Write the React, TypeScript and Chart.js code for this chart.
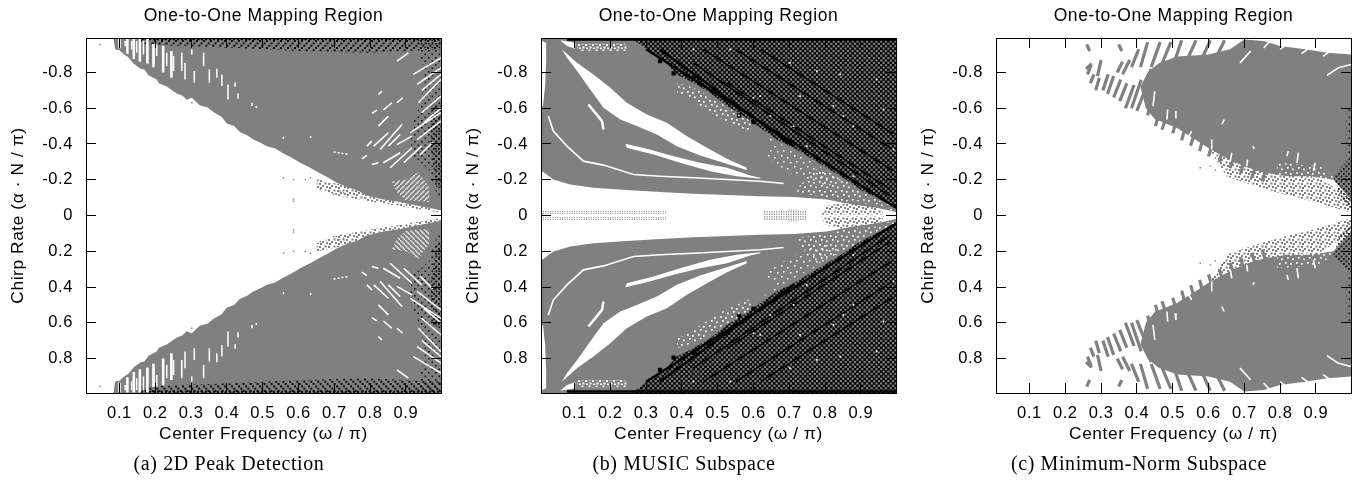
import React, { useEffect, useRef } from "react";
import { Chart, registerables } from "chart.js";

Chart.register(...registerables);

type Pt = [number, number];
type Seg = [number, number, number, number];

const xTickValues = [0.1, 0.2, 0.3, 0.4, 0.5, 0.6, 0.7, 0.8, 0.9];
const yTickValues = [-0.8, -0.6, -0.4, -0.2, 0, 0.2, 0.4, 0.6, 0.8];
const xRange: Pt = [0.0065, 0.998];
const yRange: Pt = [-0.993, 0.993];
const plotTitle = "One-to-One Mapping Region";
const xAxisTitle = "Center Frequency (ω / π)";
const yAxisTitle = "Chirp Rate (α · N / π)";

// ---------- panel (a): upper half, the lower half is its mirror image ----------
const aBody: Pt[] = [[0.083,-0.993],[0.088,-0.929],[0.1,-0.925],[0.113,-0.9],[0.125,-0.885],[0.139,-0.85],[0.158,-0.822],[0.17,-0.815],[0.181,-0.785],[0.204,-0.761],[0.21,-0.74],[0.232,-0.722],[0.26,-0.683],[0.275,-0.672],[0.288,-0.648],[0.302,-0.659],[0.325,-0.616],[0.345,-0.606],[0.363,-0.578],[0.385,-0.552],[0.4,-0.515],[0.42,-0.5],[0.437,-0.466],[0.455,-0.45],[0.474,-0.425],[0.495,-0.405],[0.512,-0.388],[0.535,-0.375],[0.558,-0.347],[0.58,-0.325],[0.605,-0.295],[0.63,-0.27],[0.661,-0.235],[0.685,-0.21],[0.707,-0.183],[0.735,-0.16],[0.765,-0.14],[0.791,-0.112],[0.837,-0.09],[0.884,-0.075],[0.931,-0.056],[0.998,-0.03],[0.998,-0.993]];
const aHatch: Pt[] = [[0.158,-0.993],[0.998,-0.993],[0.998,-0.929],[0.791,-0.91],[0.605,-0.92],[0.418,-0.938],[0.158,-0.957]];
const aRightDots: Pt[] = [[0.931,-0.993],[0.954,-0.761],[0.935,-0.593],[0.907,-0.463],[0.921,-0.332],[0.964,-0.257],[0.977,-0.164],[0.998,-0.071],[0.998,-0.993]];
const aRightDense: Pt[] = [[0.972,-0.62],[0.998,-0.62],[0.998,-0.16],[0.985,-0.16],[0.968,-0.4]];
const aWhiteCluster: Pt[] = [[0.86,-0.19],[0.9,-0.2],[0.935,-0.24],[0.965,-0.16],[0.965,-0.075],[0.9,-0.085],[0.875,-0.13]];
const aFringe: Pt[] = [[0.651,-0.201],[0.744,-0.164],[0.884,-0.08],[0.998,-0.03],[0.998,-0.015],[0.837,-0.067],[0.716,-0.108],[0.651,-0.155]];
const aTopStrip: Seg[] = [[0.16,-0.986,0.998,-0.986]];
const aWideStreaks: Seg[] = [[0.1,-0.99,0.1,-0.935],[0.122,-0.99,0.122,-0.905],[0.14,-0.99,0.14,-0.875],[0.157,-0.99,0.157,-0.86],[0.178,-0.99,0.178,-0.85],[0.195,-0.96,0.195,-0.83],[0.222,-0.95,0.222,-0.8],[0.245,-0.92,0.245,-0.77]];
const aStreaks: Seg[] = [[0.335,-0.91,0.335,-0.836],[0.309,-0.808,0.309,-0.743],[0.351,-0.817,0.351,-0.743],[0.372,-0.821,0.372,-0.771],[0.386,-0.789,0.386,-0.724],[0.403,-0.733,0.403,-0.649],[0.423,-0.746,0.423,-0.72],[0.431,-0.683,0.431,-0.653],[0.47,-0.631,0.47,-0.612],[0.482,-0.612,0.482,-0.601],[0.274,-0.91,0.274,-0.808],[0.283,-0.854,0.283,-0.761],[0.251,-0.892,0.251,-0.808],[0.232,-0.91,0.232,-0.836],[0.204,-0.957,0.204,-0.892],[0.167,-0.976,0.167,-0.901],[0.148,-0.976,0.148,-0.91],[0.134,-0.976,0.134,-0.929],[0.302,-0.929,0.302,-0.901],[0.116,-0.976,0.116,-0.948],[0.558,-0.44,0.558,-0.429],[0.634,-0.444,0.634,-0.433],[0.875,-0.864,0.907,-0.91],[0.823,-0.677,0.833,-0.696],[0.805,-0.571,0.819,-0.59],[0.837,-0.59,0.861,-0.631],[0.875,-0.631,0.891,-0.659],[0.823,-0.5,0.851,-0.556],[0.791,-0.388,0.805,-0.416],[0.81,-0.388,0.851,-0.463],[0.828,-0.369,0.889,-0.509],[0.851,-0.388,0.884,-0.453],[0.875,-0.397,0.917,-0.444],[0.837,-0.295,0.884,-0.351],[0.856,-0.267,0.917,-0.379],[0.777,-0.317,0.791,-0.336],[0.805,-0.285,0.823,-0.295],[0.921,-0.789,0.998,-0.882],[0.931,-0.733,0.998,-0.826],[0.935,-0.631,0.998,-0.761],[0.944,-0.575,0.998,-0.668],[0.912,-0.463,0.998,-0.575],[0.931,-0.425,0.998,-0.528],[0.894,-0.295,0.944,-0.388],[0.945,-0.7,0.998,-0.79],[0.95,-0.52,0.998,-0.6],[0.94,-0.34,0.975,-0.41]];
const aDottedStreak: Seg[] = [[0.698,-0.356,0.74,-0.341]];
const aGrayDots: Pt[] = [[0.558,-0.211],[0.586,-0.201],[0.619,-0.201],[0.633,-0.211],[0.661,-0.146],[0.684,-0.136],[0.698,-0.118],[0.716,-0.136],[0.726,-0.127],[0.586,-0.093],[0.586,-0.08],[0.046,-0.957],[0.302,-0.631]];

// ---------- panel (b): upper half ----------
const bBody: Pt[] = [[0.005,-0.993],[0.998,-0.993],[0.998,-0.019],[0.944,-0.043],[0.898,-0.056],[0.851,-0.071],[0.805,-0.09],[0.712,-0.104],[0.619,-0.108],[0.526,-0.114],[0.432,-0.121],[0.339,-0.131],[0.246,-0.142],[0.153,-0.155],[0.088,-0.174],[0.041,-0.201],[0.013,-0.243],[0.005,-0.248]];
const bDark: Pt[] = [[0.26,-0.993],[0.302,-0.929],[0.339,-0.892],[0.386,-0.789],[0.432,-0.743],[0.479,-0.687],[0.526,-0.612],[0.572,-0.556],[0.619,-0.491],[0.665,-0.425],[0.712,-0.379],[0.758,-0.323],[0.805,-0.267],[0.851,-0.211],[0.898,-0.146],[0.944,-0.099],[0.998,-0.043],[0.998,-0.993]];
const bMainStreak: Pt[] = [[0.065,-0.929],[0.107,-0.854],[0.153,-0.789],[0.2,-0.715],[0.246,-0.631],[0.302,-0.565],[0.358,-0.519],[0.414,-0.444],[0.47,-0.379],[0.526,-0.317],[0.581,-0.267],[0.581,-0.254],[0.516,-0.295],[0.451,-0.336],[0.386,-0.388],[0.33,-0.453],[0.274,-0.5],[0.228,-0.537],[0.181,-0.603],[0.144,-0.705],[0.111,-0.799],[0.079,-0.882]];
const bSecondStreak: Pt[] = [[0.242,-0.401],[0.302,-0.373],[0.377,-0.332],[0.451,-0.295],[0.526,-0.267],[0.591,-0.224],[0.619,-0.211],[0.619,-0.205],[0.553,-0.22],[0.479,-0.248],[0.395,-0.295],[0.321,-0.341],[0.246,-0.379]];
const bThinStreakX = [0.027,0.041,0.079,0.125,0.181,0.265,0.339,0.432,0.526,0.619,0.684];
const bThinStreakY = [-0.556,-0.472,-0.388,-0.304,-0.282,-0.229,-0.22,-0.211,-0.201,-0.192,-0.179];
const bLeftEdge: Pt[] = [[0.009,-0.976],[0.021,-0.966],[0.021,-0.873],[0.018,-0.724],[0.012,-0.612],[0.009,-0.612]];
const bTopBlock: Pt[] = [[0.06,-0.981],[0.102,-0.966],[0.102,-0.933],[0.079,-0.948]];
const bTopSpeck: Pt[] = [[0.107,-0.961],[0.246,-0.961],[0.246,-0.92],[0.107,-0.92]];
const bSpeckNearEdge: Pt[] = [[0.386,-0.743],[0.432,-0.715],[0.5,-0.64],[0.6,-0.519],[0.585,-0.47],[0.52,-0.53],[0.46,-0.6],[0.42,-0.66],[0.386,-0.687]];
const bSpeckMid: Pt[] = [[0.62,-0.47],[0.7,-0.37],[0.78,-0.28],[0.85,-0.2],[0.8,-0.16],[0.74,-0.2],[0.68,-0.26],[0.63,-0.33],[0.66,-0.39]];
const bSpeckTip: Pt[] = [[0.78,-0.27],[0.87,-0.18],[0.93,-0.1],[0.991,-0.052],[0.998,-0.015],[0.95,-0.06],[0.86,-0.075],[0.78,-0.11],[0.72,-0.125],[0.73,-0.17],[0.76,-0.22]];
const bCenterGray: Pt[] = [[0.79,-0.005],[0.8,-0.05],[0.88,-0.09],[0.95,-0.05],[0.965,-0.005]];
const bWhiteLines: Seg[] = [[0.139,-0.621,0.177,-0.528],[0.177,-0.528,0.181,-0.481]];
const bThinDotted: Seg[] = [[0.125,-0.771,0.172,-0.668],[0.172,-0.668,0.2,-0.63]];
const bDottedRows: Seg[] = [[0.005,-0.022,0.356,-0.022],[0.005,-0.012,0.356,-0.012],[0.63,-0.022,0.749,-0.022],[0.63,-0.014,0.749,-0.014],[0.63,-0.006,0.749,-0.006],[0.698,-0.03,0.726,-0.03]];
const bBlackLines: Seg[] = [[0.079,-0.985,0.998,-0.985],[0.339,-0.929,0.712,-0.388],[0.3,-0.93,0.998,-0.043]];
const bFineBlackLines: Seg[] = [[0.432,-0.854,0.982,-0.108],[0.526,-0.743,0.982,-0.146],[0.46,-0.93,0.99,-0.25],[0.55,-0.93,0.99,-0.367],[0.62,-0.93,0.99,-0.456]];
const bBlackBlobs: Pt[] = [[0.339,-0.864],[0.377,-0.795],[0.432,-0.767],[0.6,-0.522],[0.56,-0.56]];
const bWhiteSpecks: Pt[] = [[0.6,-0.659],[0.702,-0.854],[0.777,-0.808],[0.842,-0.789],[0.432,-0.929],[0.535,-0.929],[0.712,-0.5],[0.851,-0.556],[0.944,-0.761],[0.991,-0.369],[0.879,-0.22],[0.73,-0.668],[0.619,-0.668],[0.749,-0.388],[0.823,-0.612],[0.647,-0.556],[0.879,-0.5],[0.963,-0.593]];

// ---------- panel (c): upper half ----------
const cBody: Pt[] = [[0.45,-0.54],[0.425,-0.6],[0.41,-0.72],[0.43,-0.8],[0.46,-0.85],[0.512,-0.89],[0.6,-0.9],[0.66,-0.93],[0.7,-0.985],[0.754,-0.976],[0.8,-0.948],[0.875,-0.929],[0.931,-0.91],[0.998,-0.901],[0.998,-0.09],[0.949,-0.2],[0.884,-0.22],[0.819,-0.22],[0.754,-0.24],[0.698,-0.275],[0.661,-0.31],[0.605,-0.37],[0.567,-0.42],[0.512,-0.49]];
const cFringe: Pt[] = [[0.6,-0.38],[0.7,-0.3],[0.8,-0.24],[0.9,-0.22],[0.998,-0.1],[0.998,-0.015],[0.95,-0.045],[0.88,-0.085],[0.8,-0.125],[0.72,-0.17],[0.65,-0.22]];
const cDarkDots: Pt[] = [[0.949,-0.22],[0.998,-0.332],[0.998,-0.034],[0.968,-0.108]];
const cEdgeDots: Pt[] = [[0.985,-0.6],[0.998,-0.6],[0.998,-0.33],[0.985,-0.33]];
const cWhiteCluster: Pt[] = [[0.791,-0.295],[0.912,-0.276],[0.958,-0.201],[0.791,-0.2]];
const cGrayStrokes: Seg[] = [[0.262,-0.79,0.272,-0.84],[0.258,-0.82,0.274,-0.85],[0.27,-0.74,0.28,-0.79],[0.285,-0.7,0.295,-0.77],[0.29,-0.78,0.3,-0.87],[0.305,-0.7,0.32,-0.79],[0.318,-0.68,0.335,-0.78],[0.335,-0.66,0.355,-0.76],[0.352,-0.64,0.372,-0.74],[0.368,-0.6,0.392,-0.73],[0.385,-0.6,0.412,-0.76],[0.4,-0.585,0.43,-0.74],[0.345,-0.8,0.36,-0.86],[0.36,-0.79,0.38,-0.87],[0.26,-0.957,0.268,-0.92],[0.349,-0.957,0.358,-0.92],[0.385,-0.83,0.405,-0.93],[0.41,-0.83,0.43,-0.97],[0.44,-0.83,0.465,-0.97],[0.47,-0.85,0.495,-0.97],[0.505,-0.86,0.525,-0.98],[0.54,-0.87,0.565,-0.98],[0.58,-0.87,0.605,-0.98],[0.62,-0.88,0.645,-0.98],[0.42,-0.72,0.44,-0.82],[0.43,-0.56,0.45,-0.72],[0.452,-0.5,0.47,-0.64],[0.47,-0.48,0.49,-0.6],[0.5,-0.46,0.515,-0.56],[0.525,-0.42,0.54,-0.53],[0.55,-0.39,0.565,-0.49],[0.575,-0.36,0.59,-0.47],[0.6,-0.33,0.615,-0.43],[0.63,-0.3,0.645,-0.4],[0.66,-0.265,0.675,-0.35],[0.69,-0.235,0.7,-0.32],[0.72,-0.21,0.735,-0.29],[0.75,-0.19,0.76,-0.26]];
const cWhiteStreaks: Seg[] = [[0.688,-0.854,0.718,-0.92],[0.637,-0.509,0.644,-0.537],[0.724,-0.388,0.728,-0.373],[0.931,-0.784,0.963,-0.827],[0.963,-0.827,0.998,-0.845],[0.754,-0.938,0.772,-0.976],[0.8,-0.93,0.82,-0.96],[0.86,-0.905,0.88,-0.935],[0.92,-0.89,0.94,-0.92],[0.445,-0.612,0.45,-0.696],[0.484,-0.537,0.486,-0.593],[0.507,-0.547,0.509,-0.584],[0.54,-0.425,0.553,-0.472],[0.609,-0.369,0.609,-0.425],[0.661,-0.304,0.665,-0.351],[0.707,-0.276,0.709,-0.313],[0.819,-0.332,0.823,-0.36],[0.847,-0.295,0.851,-0.351],[0.893,-0.248,0.898,-0.295]];
const cGrayDots: Pt[] = [[0.577,-0.267],[0.605,-0.276],[0.619,-0.254]];

const GRAY = "#808080";

function makeTile(w: number, h: number, paint: (g: CanvasRenderingContext2D) => void) {
  const off = document.createElement("canvas");
  off.width = w;
  off.height = h;
  const g = off.getContext("2d")!;
  paint(g);
  return g.createPattern(off, "repeat")!;
}

function makePatterns() {
  const squares = (g: CanvasRenderingContext2D, c: string, s: number, list: number[][]) => {
    g.fillStyle = c;
    list.forEach(([x, y]) => g.fillRect(x, y, s, s));
  };
  return {
    dark: makeTile(19, 19, (g) => {
      g.fillStyle = "#000";
      g.fillRect(0, 0, 19, 19);
      g.fillStyle = GRAY;
      for (let i = 0; i < 4; i++)
        for (let j = 0; j < 4; j++) {
          g.fillRect(i * 4.75, j * 4.75, 2.2, 2.2);
          g.fillRect(i * 4.75 + 2.37, j * 4.75 + 2.37, 2.2, 2.2);
        }
    }),
    hatchUp: makeTile(7, 7, (g) =>
      squares(g, "rgba(0,0,0,.9)", 2, [[0, 5], [2.3, 2.7], [4.6, 0.4]])),
    hatchDown: makeTile(7, 7, (g) =>
      squares(g, "rgba(0,0,0,.9)", 2, [[0, 0.4], [2.3, 2.7], [4.6, 5]])),
    blackDots: makeTile(7, 7, (g) => squares(g, "rgba(0,0,0,.85)", 1.6, [[1, 1], [4.5, 4.5]])),
    blackDense: makeTile(5, 5, (g) => squares(g, "rgba(0,0,0,.9)", 1.8, [[0.5, 0.5], [3, 3]])),
    whiteSpeck: makeTile(11, 9, (g) =>
      squares(g, "#fff", 1.7, [[1, 1], [6, 2], [3, 5], [8, 6.5]])),
    whiteSparse: makeTile(13, 11, (g) =>
      squares(g, "#fff", 1.5, [[1, 1], [7, 3], [3, 7], [10, 8]])),
    whiteDense: makeTile(7, 7, (g) =>
      squares(g, "#fff", 2, [[0.5, 0.5], [4, 2], [1.5, 4.5], [5, 5.5]])),
    whiteDiagUp: makeTile(5, 5, (g) =>
      squares(g, "#fff", 1.4, [[0, 3.6], [1.25, 2.4], [2.5, 1.2], [3.7, 0]])),
    whiteDiagDown: makeTile(5, 5, (g) =>
      squares(g, "#fff", 1.4, [[0, 0], [1.25, 1.2], [2.5, 2.4], [3.7, 3.6]])),
    graySpeck: makeTile(9, 7, (g) =>
      squares(g, GRAY, 2, [[0.5, 0.5], [4, 1], [7, 3], [2, 4], [5, 5]])),
  };
}

const toPoints = (pts: Pt[]) => pts.map(([x, y]) => ({ x, y }));
const flip = (pts: Pt[]): Pt[] => pts.map(([x, y]) => [x, -y] as Pt);
const flipSegs = (segs: Seg[]): Seg[] => segs.map(([a, b, c, d]) => [a, -b, c, -d] as Seg);

const shape = (pts: Pt[], fillStyle: any) => ({
  data: toPoints(pts), fill: "shape", backgroundColor: fillStyle, borderWidth: 0, pointRadius: 0, tension: 0,
});
const segments = (segs: Seg[], color: string, width: number, dash: number[] = []) => ({
  data: segs.flatMap(([a, b, c, d]) => [{ x: a, y: b }, { x: c, y: d }, { x: c, y: NaN }]),
  borderColor: color, borderWidth: width, borderDash: dash, pointRadius: 0, tension: 0, fill: false, spanGaps: false,
});
const polyline = (xs: number[], ys: number[], color: string, width: number) => ({
  data: xs.map((x, i) => ({ x, y: ys[i] })),
  borderColor: color, borderWidth: width, pointRadius: 0, tension: 0, fill: false,
});
const dots = (pts: Pt[], color: string, radius: number) => ({
  data: toPoints(pts), showLine: false, pointStyle: "rect", pointRadius: radius, pointBackgroundColor: color,
  pointBorderWidth: 0, fill: false,
});

function panelA(p: ReturnType<typeof makePatterns>) {
  const half = (down: boolean) => {
    const f = down ? flip : (v: Pt[]) => v;
    const s = down ? flipSegs : (v: Seg[]) => v;
    return [
      shape(f(aFringe), p.graySpeck),
      shape(f(aBody), GRAY),
      shape(f(aHatch), down ? p.hatchDown : p.hatchUp),
      shape(f(aRightDots), p.blackDots),
      shape(f(aRightDense), p.blackDense),
      segments(s(aTopStrip), "#000", 2, [2, 2]),
      shape(f(aWhiteCluster), down ? p.whiteDiagDown : p.whiteDiagUp),
      segments(s(aWideStreaks), "#fff", 2.6),
      segments(s(aStreaks), "#fff", 1.5),
      segments(s(aDottedStreak), "#fff", 1.5, [2, 2]),
      dots(f(aGrayDots), GRAY, 1),
    ];
  };
  return [...half(false), ...half(true)];
}

function panelB(p: ReturnType<typeof makePatterns>) {
  const half = (down: boolean) => {
    const f = down ? flip : (v: Pt[]) => v;
    const s = down ? flipSegs : (v: Seg[]) => v;
    const ys = down ? bThinStreakY.map((v) => -v) : bThinStreakY;
    return [
      shape(f(bBody), GRAY),
      shape(f(bDark), p.dark),
      segments(s(bBlackLines), "#000", 2.5),
      segments(s(bFineBlackLines), "#000", 1.5),
      dots(f(bBlackBlobs), "#000", 3),
      dots(f(bWhiteSpecks), "#fff", 1.2),
      shape(f(bMainStreak), "#fff"),
      shape(f(bSecondStreak), "#fff"),
      polyline(bThinStreakX, ys, "#fff", 1.6),
      shape(f(bLeftEdge), "#fff"),
      shape(f(bTopBlock), "#fff"),
      shape(f(bTopSpeck), p.whiteDense),
      shape(f(bSpeckNearEdge), p.whiteSpeck),
      shape(f(bSpeckMid), p.whiteSparse),
      shape(f(bSpeckTip), p.whiteSpeck),
      shape(f(bCenterGray), p.graySpeck),
      segments(s(bWhiteLines), "#fff", 2.5),
      segments(s(bThinDotted), "#fff", 1.5, [2, 2]),
      segments(s(bDottedRows), GRAY, 1, [1, 1.4]),
    ];
  };
  return [...half(false), ...half(true)];
}

function panelC(p: ReturnType<typeof makePatterns>) {
  const half = (down: boolean) => {
    const f = down ? flip : (v: Pt[]) => v;
    const s = down ? flipSegs : (v: Seg[]) => v;
    return [
      shape(f(cFringe), p.graySpeck),
      shape(f(cBody), GRAY),
      segments(s(cGrayStrokes), GRAY, 3.2),
      segments(s(cWhiteStreaks), "#fff", 1.6),
      shape(f(cWhiteCluster), p.whiteSpeck),
      shape(f(cDarkDots), p.blackDense),
      shape(f(cEdgeDots), p.blackDots),
      dots(f(cGrayDots), GRAY, 1),
    ];
  };
  return [...half(false), ...half(true)];
}

const panels = [
  { left: 0, caption: "(a) 2D Peak Detection", build: panelA },
  { left: 455, caption: "(b) MUSIC Subspace", build: panelB },
  { left: 910, caption: "(c) Minimum-Norm Subspace", build: panelC },
];

function options(caption: string): any {
  const family = "'Liberation Sans'";
  const tickFont = { family, size: 16.5 };
  const axisFont = { family, size: 17.3, lineHeight: 1.2 };
  const grid = { drawOnChartArea: false, drawTicks: true, tickLength: -10, color: "#000", lineWidth: 1, z: 1 };
  const border = { display: true, color: "#000", width: 1, z: 1 };
  const setTicks = (values: number[]) => (scale: any) => {
    scale.ticks = values.map((value) => ({ value }));
  };
  const xBase = { type: "linear", min: xRange[0], max: xRange[1], grid, border, afterBuildTicks: setTicks(xTickValues) };
  const yBase = { type: "linear", reverse: true, min: yRange[0], max: yRange[1], grid, border, afterBuildTicks: setTicks(yTickValues) };
  return {
    animation: false,
    responsive: false,
    maintainAspectRatio: false,
    events: [],
    layout: { padding: 0 },
    plugins: {
      legend: { display: false },
      tooltip: { enabled: false },
      title: { display: true, text: plotTitle, color: "#000", fullSize: false, font: { family, size: 17.5, weight: "normal", lineHeight: 1.2 }, padding: { top: 5.5, bottom: 11.5 } },
      subtitle: { display: true, position: "bottom", text: caption, color: "#000", font: { family: "'Liberation Serif'", size: 20, weight: "normal", lineHeight: 1.2 }, padding: { top: 3, bottom: 3 } },
    },
    scales: {
      x: {
        ...xBase, position: "bottom",
        ticks: { color: "#000", font: tickFont, padding: 21, maxRotation: 0, autoSkip: false, callback: (v: number) => String(v) },
        title: { display: true, text: xAxisTitle, color: "#000", font: axisFont, padding: { top: 5, bottom: 5 } },
        afterFit: (s: any) => { s.height = 57; },
      },
      y: {
        ...yBase, position: "left",
        ticks: { color: "#000", font: tickFont, padding: 23, autoSkip: false, callback: (v: number) => String(v) },
        title: { display: true, text: yAxisTitle, color: "#000", font: axisFont, padding: { top: 8, bottom: 8 } },
        afterFit: (s: any) => { s.width = 86; },
      },
      xTop: { ...xBase, position: "top", ticks: { display: false }, afterFit: (s: any) => { s.height = 0; } },
      yRight: { ...yBase, position: "right", ticks: { display: false }, afterFit: (s: any) => { s.width = 17; } },
    },
  };
}

const letterSpacing = {
  id: "letterSpacing",
  beforeDraw(chart: any) {
    chart.ctx.letterSpacing = "0.6px";
  },
};

function Panel({ left, caption, build }: (typeof panels)[number]) {
  const ref = useRef<HTMLCanvasElement | null>(null);
  useEffect(() => {
    const list = build(makePatterns()).map((d: any, i: number) => ({ ...d, order: -i }));
    const chart = new Chart(ref.current!, {
      type: "line",
      data: { datasets: list },
      options: options(caption),
      plugins: [letterSpacing],
    } as any);
    return () => chart.destroy();
  }, []);
  return <canvas ref={ref} width={458} height={480} style={{ position: "absolute", left, top: 0, width: 458, height: 480 }} />;
}

export default function App() {
  return (
    <div style={{ position: "fixed", left: 0, top: 0, width: 1363, height: 480, overflow: "hidden", background: "#fff" }}>
      {panels.map((p) => <Panel key={p.left} {...p} />)}
    </div>
  );
}
